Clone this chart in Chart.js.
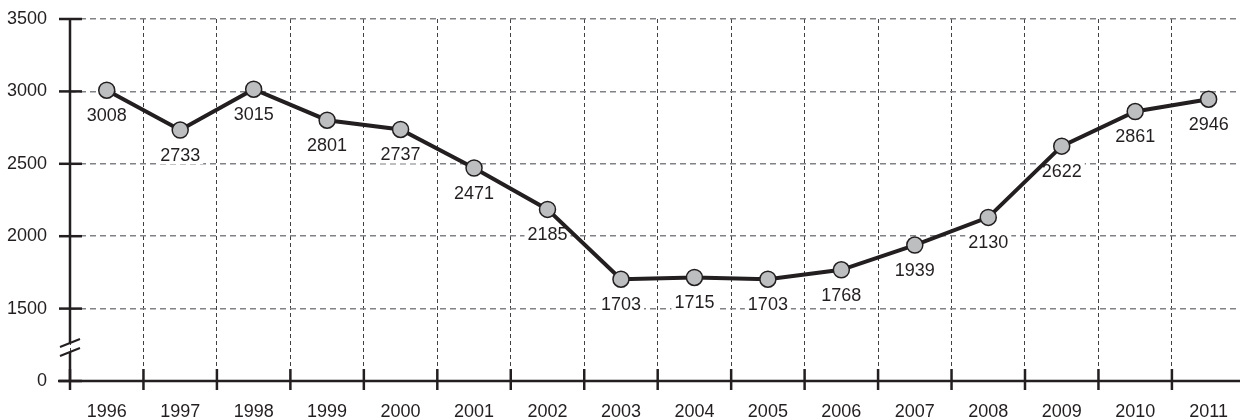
<!DOCTYPE html>
<html>
<head>
<meta charset="utf-8">
<script src="https://cdn.jsdelivr.net/npm/chart.js@4.4.0/dist/chart.umd.min.js"></script>
<style>
    html, body { margin: 0; padding: 0; background: #fff; overflow: hidden; }
    canvas { display: block; }
</style>
</head>
<body>
<canvas id="chart" width="1248" height="419"></canvas>
<script>
// годы и значения
const years = ['1996', '1997', '1998', '1999', '2000', '2001', '2002', '2003',
    '2004', '2005', '2006', '2007', '2008', '2009', '2010', '2011']
const values = [3008, 2733, 3015, 2801, 2737, 2471, 2185, 1703,
    1715, 1703, 1768, 1939, 2130, 2622, 2861, 2946]
// ось y с разрывом: нижняя отметка 1000 подписана как "0"
const yTicks = [1000, 1500, 2000, 2500, 3000, 3500]
const yTickLabels = ['0', '1500', '2000', '2500', '3000', '3500']

const ink = '#231f20'
const fontFamily = "'Liberation Sans', Arial, sans-serif"
const fontSize = 18

// оси, засечки, разрыв оси и подписи значений
const axisDecor = {
    id: 'axisDecor',
    beforeDatasetsDraw(chart) {
        const { ctx, chartArea: a, scales: { x, y } } = chart
        ctx.save()
        ctx.strokeStyle = ink
        ctx.lineWidth = 2.5
        ctx.lineCap = 'butt'

        // ось y (с разрывом)
        const gapTop = a.bottom - 38, gapBottom = a.bottom - 29
        ctx.beginPath()
        ctx.moveTo(a.left, a.top)
        ctx.lineTo(a.left, gapTop)
        ctx.moveTo(a.left, gapBottom)
        ctx.lineTo(a.left, a.bottom)
        ctx.stroke()

        // засечки оси y
        yTicks.forEach(v => {
            const py = y.getPixelForValue(v)
            ctx.beginPath()
            ctx.moveTo(a.left - 11, py)
            ctx.lineTo(a.left + 12, py)
            ctx.stroke()
        })

        // знак разрыва
        ctx.lineWidth = 2
        ctx.beginPath()
        ctx.moveTo(a.left - 10, gapTop + 4)
        ctx.lineTo(a.left + 10, gapTop - 4)
        ctx.moveTo(a.left - 10, gapBottom + 4)
        ctx.lineTo(a.left + 10, gapBottom - 4)
        ctx.stroke()

        // ось x
        ctx.lineWidth = 2.5
        ctx.beginPath()
        ctx.moveTo(a.left - 12, a.bottom)
        ctx.lineTo(chart.width, a.bottom)
        ctx.stroke()

        // засечки оси x на границах категорий
        const half = (x.getPixelForValue(1) - x.getPixelForValue(0)) / 2
        for (let i = 0; i <= years.length; i++) {
            const px = x.getPixelForValue(Math.min(i, years.length - 1)) + (i === years.length ? half : -half)
            ctx.beginPath()
            ctx.moveTo(px, a.bottom - 12)
            ctx.lineTo(px, a.bottom + 9)
            ctx.stroke()
        }

        // подписи значений под точками (на белом фоне)
        ctx.font = fontSize + 'px ' + fontFamily
        ctx.textAlign = 'center'
        ctx.textBaseline = 'middle'
        const meta = chart.getDatasetMeta(0)
        meta.data.forEach((pt, i) => {
            const text = String(values[i])
            const w = ctx.measureText(text).width
            const ty = pt.y + 25
            ctx.fillStyle = '#fff'
            ctx.fillRect(pt.x - w / 2 - 3, ty - 9, w + 6, 18)
            ctx.fillStyle = ink
            ctx.fillText(text, pt.x, ty + 1)
        })
        ctx.restore()
    }
}

const chart = new Chart(document.getElementById('chart'), {
    type: 'line',
    data: {
        labels: years,
        datasets: [{
            data: values,
            borderColor: ink,
            borderWidth: 4,
            pointRadius: 8,
            pointHoverRadius: 8,
            pointBackgroundColor: '#bcbec0',
            pointBorderColor: ink,
            pointBorderWidth: 1.5,
            tension: 0,
            fill: false
        }]
    },
    options: {
        responsive: false,
        animation: false,
        layout: { autoPadding: false, padding: { top: 19, right: 0, left: 0, bottom: 0 } },
        plugins: {
            legend: { display: false },
            tooltip: { enabled: false }
        },
        scales: {
            x: {
                type: 'category',
                offset: true,
                grid: {
                    offset: true,
                    color: '#414042',
                    lineWidth: 1,
                    drawTicks: false
                },
                border: { display: false, dash: [4, 3] },
                ticks: {
                    color: ink,
                    padding: 20,
                    maxRotation: 0,
                    autoSkip: false,
                    font: { family: fontFamily, size: fontSize }
                },
                afterFit(scale) { scale.height = 38 }
            },
            y: {
                min: 1000,
                max: 3500,
                afterBuildTicks(scale) { scale.ticks = yTicks.map(v => ({ value: v })) },
                grid: {
                    color: '#808285',
                    lineWidth: 1.5,
                    drawTicks: false
                },
                border: { display: false, dash: [6, 4] },
                ticks: {
                    color: ink,
                    padding: 23,
                    font: { family: fontFamily, size: fontSize },
                    callback: (v) => yTickLabels[yTicks.indexOf(v)]
                },
                afterFit(scale) {
                    scale.width = 70
                    scale.paddingTop = 0
                    scale.paddingBottom = 0
                }
            }
        }
    },
    plugins: [axisDecor]
})
</script>
</body>
</html>
